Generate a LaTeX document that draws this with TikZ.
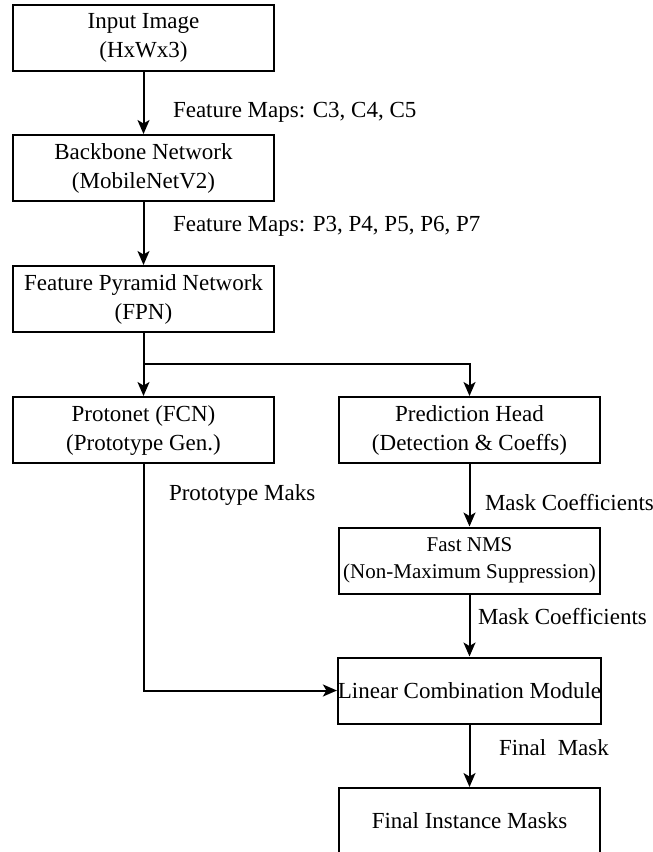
\documentclass[tikz,border=0pt]{standalone}
\usepackage{fontspec}
\setmainfont{Liberation Serif}
\usetikzlibrary{arrows.meta}
\newlength{\du}
\setlength{\du}{1pt}
\tikzset{
  diabox/.style={draw, rectangle, inner sep=0pt, minimum width=261\du, minimum height=66\du,
    align=center, font=\fontsize{23}{29}\selectfont},
  dialabel/.style={anchor=west, inner sep=0pt, font=\fontsize{23}{29}\selectfont},
  diaarrow/.style={-{Stealth[length=14pt,width=12pt,inset=3.5pt]}}
}
\begin{document}
\begin{tikzpicture}[line width=2pt]
\pgftransformxscale{1.000000}
\pgftransformyscale{-1.000000}
\definecolor{dialinecolor}{rgb}{0.000000, 0.000000, 0.000000}
\pgfsetstrokecolor{dialinecolor}
\useasboundingbox (0\du,0\du) rectangle (653\du,852\du);
% setfont left to latex
\node[diabox] (input) at (143.5\du,38.0\du){Input Image\\(HxWx3)};
\node[diabox] (backbone) at (143.5\du,168.0\du){Backbone Network\\(MobileNetV2)};
\node[diabox] (fpn) at (143.5\du,299.0\du){Feature Pyramid Network\\(FPN)};
\node[diabox] (protonet) at (143.5\du,430.0\du){Protonet (FCN)\\(Prototype Gen.)};
\node[diabox] (predhead) at (469.5\du,430.0\du){Prediction Head\\(Detection \& Coeffs)};
\node[diabox, font=\fontsize{21}{27}\selectfont] (fastnms) at (469.5\du,560.5\du){Fast NMS\\(Non-Maximum Suppression)};
\node[diabox] (lincomb) at (469.5\du,690.5\du){Linear Combination Module};
\node[diabox] (finalmasks) at (469.5\du,821.0\du){Final Instance Masks};
% labels
\node[dialabel] (lblc) at (172.0\du,112.0\du){Feature Maps: C3, C4, C5};
\node[dialabel] (lblp) at (172.0\du,226.0\du){Feature Maps: P3, P4, P5, P6, P7};
\node[dialabel] (lblproto) at (168.0\du,495.0\du){Prototype Maks};
\node[dialabel] (lblcoef) at (484.0\du,503.0\du){Mask Coefficients};
\node[dialabel] (lblcoefb) at (477.0\du,617.0\du){Mask Coefficients};
\node[dialabel] (lblfinal) at (498.0\du,748.0\du){Final\ \ Mask};
\coordinate (split) at (143.5\du,364.0\du);
{
% was here!!!
\draw[diaarrow] (input.south)--(backbone.north);
}
{
\draw[diaarrow] (backbone.south)--(fpn.north);
}
{
\draw (fpn.south)--(split);
\draw[diaarrow] (split)--(protonet.north);
\draw[diaarrow] (split)-|(predhead.north);
}
{
\draw[diaarrow] (predhead.south)--(fastnms.north);
}
{
\draw[diaarrow] (fastnms.south)--(lincomb.north);
}
{
\draw[diaarrow] (protonet.south)|-(lincomb.west);
}
{
\draw[diaarrow] (lincomb.south)--(finalmasks.north);
}
\end{tikzpicture}
\end{document}
